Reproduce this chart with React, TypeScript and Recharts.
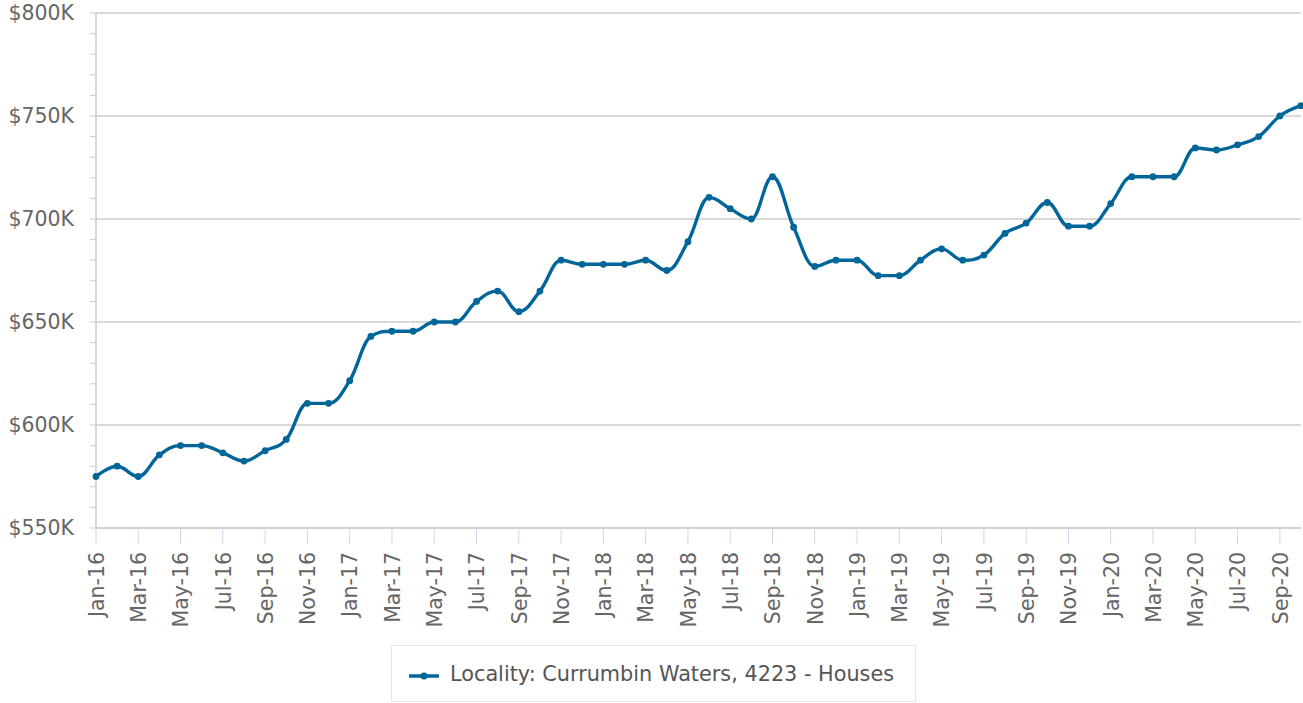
import React from 'react';
import { LineChart, Line, XAxis, YAxis, CartesianGrid, Legend } from 'recharts';

const months: string[] = [
  'Jan-16','Feb-16','Mar-16','Apr-16','May-16','Jun-16','Jul-16','Aug-16','Sep-16','Oct-16','Nov-16','Dec-16',
  'Jan-17','Feb-17','Mar-17','Apr-17','May-17','Jun-17','Jul-17','Aug-17','Sep-17','Oct-17','Nov-17','Dec-17',
  'Jan-18','Feb-18','Mar-18','Apr-18','May-18','Jun-18','Jul-18','Aug-18','Sep-18','Oct-18','Nov-18','Dec-18',
  'Jan-19','Feb-19','Mar-19','Apr-19','May-19','Jun-19','Jul-19','Aug-19','Sep-19','Oct-19','Nov-19','Dec-19',
  'Jan-20','Feb-20','Mar-20','Apr-20','May-20','Jun-20','Jul-20','Aug-20','Sep-20','Oct-20',
];

// median price, in thousands of dollars
const pricesK: number[] = [
  575, 580, 575, 585.5, 590, 590, 586.5, 582.5, 587.5, 593, 610.5, 610.5,
  621.5, 643, 645.5, 645.5, 650, 650, 660, 665, 655, 665, 680, 678,
  678, 678, 680, 675, 689, 710.5, 705, 700, 720.5, 696, 677, 680,
  680, 672.5, 672.5, 680, 685.5, 680, 682.5, 693, 698, 708, 696.5, 696.5,
  707.5, 720.5, 720.5, 720.5, 734.5, 733.5, 736, 740, 750, 755,
];

const yTicks: number[] = [
  550000, 560000, 570000, 580000, 590000, 600000, 610000, 620000, 630000, 640000,
  650000, 660000, 670000, 680000, 690000, 700000, 710000, 720000, 730000, 740000,
  750000, 760000, 770000, 780000, 790000, 800000,
];
const yGridValues: number[] = [550000, 600000, 650000, 700000, 750000, 800000];

const seriesName = 'Locality: Currumbin Waters, 4223 - Houses';

const data = months.map((m, i) => ({ month: m, value: pricesK[i] * 1000 }));

const LINE_COLOR = '#006699';
const FONT = '"DejaVu Sans", Verdana, sans-serif';
const FONT_SIZE = 20.5;
const TEXT_COLOR = '#666666';

// Highcharts-style spline curve
const splineCurve: any = (context: any) => {
  let xs: number[] = [];
  let ys: number[] = [];
  return {
    areaStart() {},
    areaEnd() {},
    lineStart() {
      xs = [];
      ys = [];
    },
    point(x: number, y: number) {
      xs.push(+x);
      ys.push(+y);
    },
    lineEnd() {
      const n = xs.length;
      if (!n) return;
      context.moveTo(xs[0], ys[0]);
      let prevRX: number | null = null;
      let prevRY: number | null = null;
      const s = 1.5;
      const d = s + 1;
      for (let i = 1; i < n; i++) {
        const px = xs[i];
        const py = ys[i];
        let lcx = px;
        let lcy = py;
        let rcx: number | null = null;
        let rcy: number | null = null;
        if (i < n - 1) {
          const lx = xs[i - 1];
          const ly = ys[i - 1];
          const nx = xs[i + 1];
          const ny = ys[i + 1];
          lcx = (s * px + lx) / d;
          lcy = (s * py + ly) / d;
          let rx = (s * px + nx) / d;
          let ry = (s * py + ny) / d;
          let corr = 0;
          if (rx !== lcx) corr = ((ry - lcy) * (rx - px)) / (rx - lcx) + py - ry;
          lcy += corr;
          ry += corr;
          if (lcy > ly && lcy > py) {
            lcy = Math.max(ly, py);
            ry = 2 * py - lcy;
          } else if (lcy < ly && lcy < py) {
            lcy = Math.min(ly, py);
            ry = 2 * py - lcy;
          }
          if (ry > ny && ry > py) {
            ry = Math.max(ny, py);
            lcy = 2 * py - ry;
          } else if (ry < ny && ry < py) {
            ry = Math.min(ny, py);
            lcy = 2 * py - ry;
          }
          rcx = rx;
          rcy = ry;
        }
        const c1x = prevRX !== null ? prevRX : xs[i - 1];
        const c1y = prevRY !== null ? prevRY : ys[i - 1];
        context.bezierCurveTo(c1x, c1y, lcx, lcy, px, py);
        prevRX = rcx;
        prevRY = rcy;
      }
    },
  };
};

const YTick = (props: any) => {
  const { x, y, payload } = props;
  if (payload.value % 50000 !== 0) return null;
  return (
    <text x={x} y={y} dy="0.36em" textAnchor="end" fill={TEXT_COLOR} fontSize={FONT_SIZE} fontFamily={FONT}>
      {`$${payload.value / 1000}K`}
    </text>
  );
};

const XTick = (props: any) => {
  const { x, y, payload } = props;
  return (
    <text
      x={x}
      y={y}
      dy="0.38em"
      textAnchor="end"
      transform={`rotate(-90, ${x}, ${y})`}
      fill={TEXT_COLOR}
      fontSize={FONT_SIZE}
      fontFamily={FONT}
    >
      {payload.value}
    </text>
  );
};

const LegendBox = () => (
  <div
    style={{
      boxSizing: 'border-box',
      width: 525,
      height: 57,
      border: '1px solid #e6e6e6',
      background: '#ffffff',
      display: 'flex',
      alignItems: 'center',
      paddingLeft: 17,
      fontFamily: FONT,
      fontSize: 20.8,
      color: '#555555',
      whiteSpace: 'nowrap',
    }}
  >
    <svg width={32} height={12} style={{ marginRight: 9, marginTop: 4 }}>
      <line x1={0} y1={6} x2={30} y2={6} stroke={LINE_COLOR} strokeWidth={3.5} />
      <circle cx={15} cy={6} r={3.5} fill={LINE_COLOR} />
    </svg>
    <span>{seriesName}</span>
  </div>
);

export default function App() {
  return (
    <div style={{ position: 'absolute', left: 0, top: 0, width: 1303, height: 703, background: '#fff' }}>
      <LineChart width={1303} height={703} data={data} margin={{ top: 13, right: 2, bottom: 0, left: 0 }}>
        <CartesianGrid vertical={false} stroke="#cccccc" strokeWidth={1.5} horizontalValues={yGridValues} />
        <XAxis
          dataKey="month"
          interval={1}
          height={175}
          tickSize={16}
          tickMargin={8}
          tickLine={{ stroke: '#ccd6eb', strokeWidth: 1 }}
          axisLine={{ stroke: '#cccccc', strokeWidth: 1.5 }}
          tick={<XTick />}
        />
        <YAxis
          width={96}
          domain={[550000, 800000]}
          ticks={yTicks}
          interval={0}
          tickSize={6}
          tickMargin={16}
          tickLine={{ stroke: '#cccccc', strokeWidth: 1 }}
          axisLine={{ stroke: '#cccccc', strokeWidth: 1.5 }}
          tick={<YTick />}
          allowDataOverflow
        />
        <Legend
          layout="horizontal"
          verticalAlign="middle"
          align="center"
          wrapperStyle={{ left: 391, top: 645, width: 525, height: 57 }}
          content={() => <LegendBox />}
        />
        <Line
          dataKey="value"
          name={seriesName}
          type={splineCurve}
          stroke={LINE_COLOR}
          strokeWidth={3.4}
          dot={{ r: 3.4, fill: LINE_COLOR, stroke: LINE_COLOR, strokeWidth: 0 }}
          activeDot={false}
          isAnimationActive={false}
        />
      </LineChart>
    </div>
  );
}
